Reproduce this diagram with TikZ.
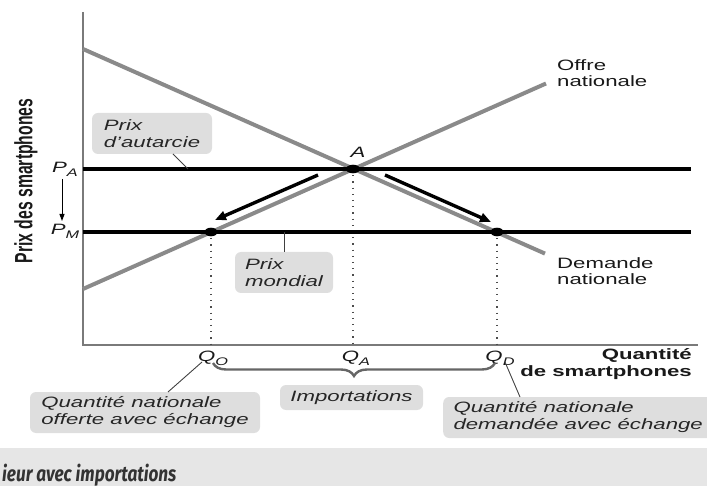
\documentclass[tikz,border=0pt]{standalone}
\usepackage{fontspec}
\setmainfont[FakeStretch=1.48]{Liberation Sans}
\newfontfamily\rotfont[FakeStretch=0.63]{Liberation Sans}
\newfontfamily\bandfont[FakeStretch=0.8]{Fira Sans}
\usetikzlibrary{decorations.pathreplacing,arrows.meta}
\definecolor{boxgray}{HTML}{DEDEDE}
\definecolor{bandgray}{HTML}{E6E6E6}
\definecolor{curvegray}{HTML}{8A8A8A}
\definecolor{axisgray}{HTML}{7A7A7A}
\newcommand\mysub[2]{\textit{#1\raisebox{-0.45ex}{\fontsize{11}{11}\selectfont #2}}}
\begin{document}
\begin{tikzpicture}[x=1pt,y=-1pt,
  txt/.style={font=\fontsize{15}{16}\selectfont, text=black!90, inner sep=0pt},
  tag/.style={fill=boxgray, rounded corners=6pt, align=left, inner sep=0pt,
     font=\itshape\fontsize{15}{17}\selectfont, text=black!85},
  curve/.style={draw=curvegray, line width=4pt},
  price/.style={draw=black, line width=3.4pt},
  axis/.style={draw=axisgray, line width=1.4pt},
  guide/.style={draw=black!70, line width=1.4pt, dash pattern=on 1.2pt off 5pt},
  lead/.style={draw=black!75, line width=0.9pt},
  move/.style={draw=black, line width=3.4pt, -{Triangle[length=11pt,width=9pt]}},
  dotpt/.style={fill=black}
]
\useasboundingbox (0,0) rectangle (707,486);
% bottom band
\fill[bandgray] (0,448) rectangle (707,486);
\node[anchor=base west, inner sep=0pt, text=black!80,
  font=\bandfont\bfseries\itshape\fontsize{21.5}{21.5}\selectfont] (band) at (2,481) {ieur avec importations};

% axes
\coordinate (ytop) at (83,12);
\coordinate (O) at (83,345);
\coordinate (xend) at (698,345);
\draw[axis] (ytop) -- (O) -- (xend);

% key points
\coordinate (A) at (353,169);
\coordinate (E1) at (211,232);
\coordinate (E2) at (497,232);
\coordinate (QOb) at (211,345);
\coordinate (QAb) at (353,345);
\coordinate (QDb) at (497,345);

% dotted guides
\draw[guide] (A) -- (QAb);
\draw[guide] (E1) -- (QOb);
\draw[guide] (E2) -- (QDb);

% supply and demand
\coordinate (d0) at (83,49);
\coordinate (d1) at (545,253.6);
\coordinate (s0) at (83,289);
\coordinate (s1) at (546,83.5);
\draw[curve] (d0) -- (d1);
\draw[curve] (s0) -- (s1);

% price lines
\coordinate (paL) at (83,169);
\coordinate (paR) at (691,169);
\coordinate (pmL) at (83,232);
\coordinate (pmR) at (691,232);
\draw[price] (paL) -- (paR);
\draw[price] (pmL) -- (pmR);

% dots
\fill[dotpt] (A) ellipse [x radius=7pt, y radius=4.3pt];
\fill[dotpt] (E1) ellipse [x radius=6.5pt, y radius=4.3pt];
\fill[dotpt] (E2) ellipse [x radius=6.5pt, y radius=4.3pt];

% movement arrows
\coordinate (m1a) at (318,175);
\coordinate (m1b) at (215,220);
\coordinate (m2a) at (385,175);
\coordinate (m2b) at (491,222);
\draw[move] (m1a) -- (m1b);
\draw[move] (m2a) -- (m2b);

% labels
\node[txt, anchor=base, font=\itshape\fontsize{15}{16}\selectfont] (lA) at (358,158) {A};
\node[txt, anchor=base west, align=left] (offre) at (557,87) {Offre\\nationale};
\node[txt, anchor=base west, align=left] (demande) at (557,285) {Demande\\nationale};
\node[txt, anchor=base] (pa) at (65,173) {\mysub{P}{A}};
\node[txt, anchor=base] (pm) at (65,235) {\mysub{P}{M}};
\coordinate (pda) at (62,179);
\coordinate (pdb) at (62,221);
\draw[draw=black, line width=1pt, -{Triangle[length=7pt,width=5pt]}] (pda) -- (pdb);

\node[rotate=90, inner sep=0pt, font=\rotfont\bfseries\fontsize{25}{25}\selectfont, text=black!90] (ylab) at (26,181) {Prix des smartphones};
\node[txt, anchor=base east, align=right, font=\bfseries\fontsize{15}{17}\selectfont] (xlab) at (692,376) {Quantité\\de smartphones};

\node[txt, anchor=base] (qo) at (213,362) {\mysub{Q}{O}};
\node[txt, anchor=base] (qa) at (356,362) {\mysub{Q}{A}};
\node[txt, anchor=base] (qd) at (500,362) {\mysub{Q}{D}};

% brace
\coordinate (br0) at (213,363);
\coordinate (br1) at (495,363);
\draw[draw=black!60, line width=2.4pt, decorate, decoration={brace, mirror, amplitude=13pt}] (br0) -- (br1);

% boxes
\node[tag, minimum width=120pt, minimum height=41pt] (autarcie) at (152,133.5) {Prix\\d'autarcie};
\node[tag, minimum width=98pt, minimum height=41pt] (mondial) at (284,272.5) {Prix\\mondial};
\node[tag, minimum width=143pt, minimum height=25pt] (import) at (351.5,397.5) {Importations};
\node[tag, minimum width=230pt, minimum height=41pt] (offerte) at (145,412.5) {Quantité nationale\\offerte avec échange};
\node[tag, minimum width=270pt, minimum height=41pt, anchor=west] (demandee) at (443,417.5) {Quantité nationale\\demandée avec échange};

% leaders
\coordinate (aA) at (173,154);
\coordinate (tA) at (188,169);
\draw[lead] (aA) -- (tA);
\draw[lead] (mondial.north) -- (mondial.north |- pmL);
\coordinate (oA) at (168,392);
\coordinate (oB) at (202,362);
\draw[lead] (oA) -- (oB);
\coordinate (dA) at (520,397);
\coordinate (dB) at (505,362);
\draw[lead] (dA) -- (dB);
\end{tikzpicture}
\end{document}
